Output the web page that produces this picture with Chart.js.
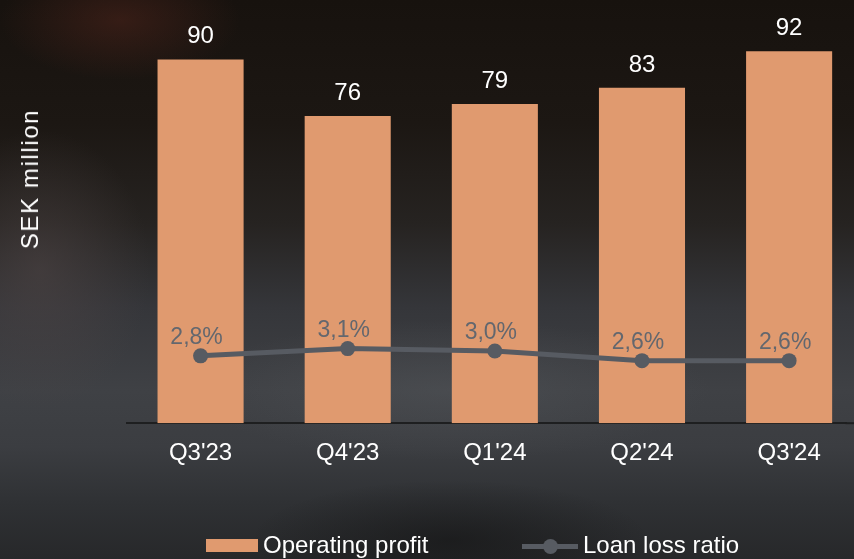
<!DOCTYPE html>
<html lang="sv">
<head>
    <meta charset="UTF-8">
    <title>Operating profit</title>
    <script src="https://cdn.jsdelivr.net/npm/chart.js"></script>
    <style>
        html, body {
            margin: 0;
            padding: 0;
            overflow: hidden;
        }
        body {
            width: 854px;
            height: 559px;
            position: relative;
            font-family: "Liberation Sans", Arial, sans-serif;
            background:
                radial-gradient(ellipse 120px 60px at 120px 20px, rgba(90, 40, 30, 0.45), rgba(0,0,0,0)),
                radial-gradient(ellipse 110px 140px at 40px 270px, rgba(80, 70, 70, 0.55), rgba(0,0,0,0)),
                radial-gradient(ellipse 260px 70px at 450px 390px, rgba(85, 88, 92, 0.45), rgba(0,0,0,0)),
                radial-gradient(ellipse 200px 60px at 450px 540px, rgba(15, 15, 15, 0.5), rgba(0,0,0,0)),
                linear-gradient(to bottom, #17120e 0%, #1c1713 22%, #262321 40%, #35363a 55%, #3f4145 70%, #3b3d41 80%, #2f3134 90%, #27282a 100%);
        }
        .chart-box {
            position: absolute;
            left: 0;
            top: 0;
            width: 854px;
            height: 559px;
        }
        .chart-box canvas {
            display: block;
        }
        .y-title {
            position: absolute;
            left: 30px;
            top: 179px;
            transform: translate(-50%, -50%) rotate(-90deg);
            color: #ffffff;
            font-size: 24px;
            letter-spacing: 1.6px;
            white-space: nowrap;
        }
        .legend {
            position: absolute;
            top: 531px;
            left: 0;
            width: 854px;
            height: 28px;
            color: #ffffff;
            font-size: 24px;
        }
        .legend span {
            position: absolute;
            top: 0;
            line-height: 28px;
        }
        .swatch {
            position: absolute;
            left: 206px;
            top: 8px;
            width: 52px;
            height: 13px;
            background: #e09a6f;
        }
        .line-key {
            position: absolute;
            left: 522px;
            top: 13px;
            width: 56px;
            height: 5px;
            background: #575b62;
        }
        .line-key::after {
            content: "";
            position: absolute;
            left: 21px;
            top: -5px;
            width: 15px;
            height: 15px;
            border-radius: 50%;
            background: #575b62;
        }
    </style>
</head>
<body>
    <div class="chart-box">
        <canvas id="profitChart" width="854" height="559"></canvas>
    </div>
    <div class="y-title">SEK million</div>
    <div class="legend">
        <div class="swatch"></div>
        <span style="left: 263px;">Operating profit</span>
        <div class="line-key"></div>
        <span style="left: 583px;">Loan loss ratio</span>
    </div>

    <script>
        // chart data
        const quarters = ["Q3'23", "Q4'23", "Q1'24", "Q2'24", "Q3'24"];
        const operatingProfit = [90, 76, 79, 83, 92];
        const loanLossRatio = [2.8, 3.1, 3.0, 2.6, 2.6];
        const ratioLabels = ['2,8%', '3,1%', '3,0%', '2,6%', '2,6%'];

        const barColor = '#e09a6f';
        const lineColor = '#575b62';
        const axisColor = '#1e1f20';

        // x is the quarter index, so the last column can run past the right edge
        const profitPoints = operatingProfit.map(function(v, i) { return { x: i, y: v }; });
        const ratioPoints = loanLossRatio.map(function(v, i) { return { x: i, y: v }; });

        // draws the numbers above bars and points
        const valueLabels = {
            id: 'valueLabels',
            afterDatasetsDraw(chart) {
                const ctx = chart.ctx;
                ctx.save();
                ctx.textAlign = 'center';
                ctx.textBaseline = 'alphabetic';

                const bars = chart.getDatasetMeta(1).data;
                ctx.fillStyle = '#ffffff';
                ctx.font = '24px "Liberation Sans", Arial, sans-serif';
                bars.forEach(function(bar, i) {
                    ctx.fillText(String(operatingProfit[i]), bar.x, bar.y - 16);
                });

                const points = chart.getDatasetMeta(0).data;
                ctx.fillStyle = '#63676e';
                ctx.font = '23px "Liberation Sans", Arial, sans-serif';
                points.forEach(function(pt, i) {
                    ctx.fillText(ratioLabels[i], pt.x - 4, pt.y - 12);
                });
                ctx.restore();
            }
        };

        // carries the axis line on to the right edge of the canvas
        const axisTail = {
            id: 'axisTail',
            afterDraw(chart) {
                const ctx = chart.ctx;
                const y = chart.scales.x.top;
                ctx.save();
                ctx.strokeStyle = axisColor;
                ctx.lineWidth = 2;
                ctx.beginPath();
                ctx.moveTo(chart.chartArea.right - 1, y);
                ctx.lineTo(chart.width, y);
                ctx.stroke();
                ctx.restore();
            }
        };

        function initChart() {
            new Chart(document.getElementById('profitChart'), {
                data: {
                    datasets: [{
                        type: 'line',
                        label: 'Loan loss ratio',
                        data: ratioPoints,
                        yAxisID: 'y2',
                        borderColor: lineColor,
                        backgroundColor: lineColor,
                        borderWidth: 5,
                        pointRadius: 7.5,
                        pointHoverRadius: 7.5,
                        pointBackgroundColor: lineColor,
                        pointBorderWidth: 0,
                        tension: 0,
                        order: 0
                    }, {
                        type: 'bar',
                        label: 'Operating profit',
                        data: profitPoints,
                        yAxisID: 'y',
                        backgroundColor: barColor,
                        borderWidth: 0,
                        categoryPercentage: 1,
                        barPercentage: 0.585,
                        order: 1
                    }]
                },
                options: {
                    responsive: false,
                    animation: false,
                    layout: {
                        padding: { left: 127, right: 0, top: 19, bottom: 83 }
                    },
                    plugins: {
                        legend: { display: false },
                        tooltip: { enabled: false }
                    },
                    scales: {
                        x: {
                            type: 'linear',
                            min: -0.5,
                            max: 4.39,
                            offset: false,
                            grid: { display: false },
                            border: { display: true, color: axisColor, width: 2 },
                            afterBuildTicks: function(scale) {
                                scale.ticks = quarters.map(function(q, i) { return { value: i }; });
                            },
                            ticks: {
                                color: '#ffffff',
                                padding: 8,
                                autoSkip: false,
                                maxRotation: 0,
                                font: { family: '"Liberation Sans", Arial, sans-serif', size: 24 },
                                callback: function(value) {
                                    return quarters[value];
                                }
                            }
                        },
                        y: {
                            display: false,
                            min: 0,
                            max: 100
                        },
                        y2: {
                            display: false,
                            position: 'right',
                            min: 0,
                            max: 16.8
                        }
                    }
                },
                plugins: [valueLabels, axisTail]
            });
        }

        document.addEventListener('DOMContentLoaded', function() {
            initChart();
        });
    </script>
</body>
</html>
